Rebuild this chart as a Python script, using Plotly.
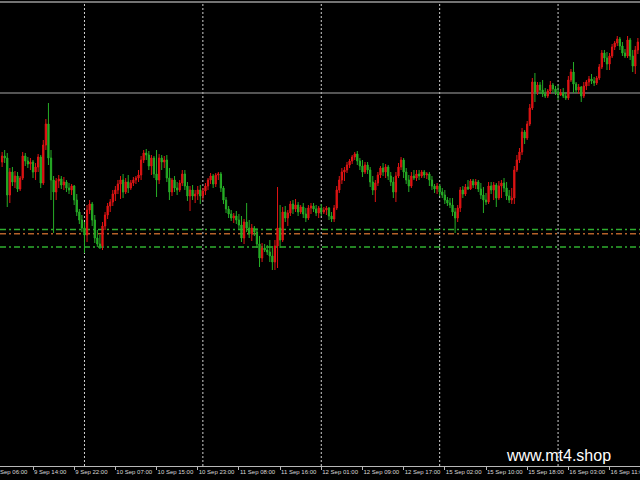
import plotly.graph_objects as go

# ---- data (M30 EURUSD-like bars) ----
bar_index = list(range(248))

opens = [
1.1838,1.1844,1.1842,1.1805,1.1828,1.1818,1.1824,1.1811,1.1822,1.1844,
1.1839,1.1836,1.1838,1.1828,1.1833,1.1843,1.1817,1.1855,1.1876,1.1842,
1.1820,1.1808,1.1819,1.1821,1.1815,1.1818,1.1812,1.1810,1.1814,1.1800,
1.1788,1.1780,1.1772,1.1765,1.1790,1.1796,1.1780,1.1762,1.1756,1.1754,
1.1774,1.1785,1.1794,1.1798,1.1806,1.1810,1.1816,1.1820,1.1808,1.1818,
1.1812,1.1817,1.1820,1.1822,1.1825,1.1840,1.1847,1.1845,1.1834,1.1842,
1.1826,1.1820,1.1842,1.1838,1.1840,1.1822,1.1808,1.1820,1.1812,1.1810,
1.1817,1.1826,1.1814,1.1804,1.1810,1.1804,1.1806,1.1810,1.1804,1.1809,
1.1814,1.1820,1.1824,1.1816,1.1825,1.1826,1.1812,1.1800,1.1791,1.1786,
1.1782,1.1784,1.1780,1.1775,1.1762,1.1778,1.1772,1.1766,1.1772,1.1768,
1.1756,1.1742,1.1752,1.1750,1.1748,1.1744,1.1738,1.1754,1.1772,1.1760,
1.1788,1.1782,1.1787,1.1796,1.1791,1.1795,1.1788,1.1793,1.1786,1.1782,
1.1792,1.1794,1.1791,1.1787,1.1792,1.1788,1.1790,1.1792,1.1784,1.1781,
1.1792,1.1810,1.1820,1.1828,1.1830,1.1835,1.1839,1.1843,1.1846,1.1839,
1.1834,1.1828,1.1835,1.1830,1.1818,1.1810,1.1817,1.1825,1.1832,1.1828,
1.1833,1.1824,1.1818,1.1808,1.1824,1.1833,1.1840,1.1828,1.1820,1.1814,
1.1824,1.1822,1.1826,1.1824,1.1828,1.1825,1.1826,1.1820,1.1814,1.1811,
1.1814,1.1808,1.1805,1.1800,1.1797,1.1795,1.1788,1.1782,1.1792,1.1810,
1.1806,1.1813,1.1811,1.1819,1.1815,1.1818,1.1811,1.1805,1.1800,1.1798,
1.1814,1.1810,1.1815,1.1802,1.1814,1.1817,1.1812,1.1804,1.1800,1.1802,
1.1830,1.1840,1.1848,1.1868,1.1862,1.1876,1.1892,1.1918,1.1908,1.1915,
1.1910,1.1906,1.1904,1.1909,1.1915,1.1911,1.1908,1.1905,1.1907,1.1904,
1.1902,1.1920,1.1928,1.1916,1.1910,1.1913,1.1904,1.1914,1.1918,1.1921,
1.1919,1.1917,1.1922,1.1933,1.1947,1.1942,1.1936,1.1944,1.1953,1.1957,
1.1961,1.1954,1.1947,1.1944,1.1960,1.1944,1.1934,1.1950,
]

highs = [
1.1848,1.1850,1.1847,1.1832,1.1833,1.1829,1.1828,1.1824,1.1848,1.1847,
1.1843,1.1842,1.1840,1.1837,1.1846,1.1845,1.1860,1.1881,1.1897,1.1850,
1.1824,1.1822,1.1825,1.1824,1.1823,1.1820,1.1817,1.1816,1.1815,1.1806,
1.1791,1.1785,1.1778,1.1795,1.1800,1.1798,1.1785,1.1770,1.1765,1.1778,
1.1788,1.1797,1.1801,1.1810,1.1814,1.1820,1.1824,1.1826,1.1822,1.1825,
1.1820,1.1823,1.1824,1.1830,1.1844,1.1850,1.1851,1.1849,1.1845,1.1844,
1.1850,1.1846,1.1845,1.1844,1.1845,1.1832,1.1822,1.1824,1.1818,1.1820,
1.1830,1.1830,1.1818,1.1814,1.1815,1.1810,1.1814,1.1815,1.1812,1.1817,
1.1822,1.1827,1.1826,1.1827,1.1828,1.1828,1.1814,1.1803,1.1794,1.1790,
1.1787,1.1789,1.1786,1.1784,1.1781,1.1797,1.1780,1.1776,1.1774,1.1772,
1.1764,1.1757,1.1756,1.1755,1.1760,1.1754,1.1760,1.1813,1.1795,1.1793,
1.1794,1.1790,1.1799,1.1800,1.1801,1.1798,1.1795,1.1797,1.1792,1.1795,
1.1797,1.1797,1.1795,1.1794,1.1796,1.1793,1.1794,1.1793,1.1788,1.1795,
1.1814,1.1824,1.1832,1.1833,1.1838,1.1841,1.1845,1.1848,1.1849,1.1842,
1.1840,1.1838,1.1838,1.1833,1.1824,1.1820,1.1828,1.1834,1.1837,1.1836,
1.1835,1.1828,1.1823,1.1828,1.1837,1.1843,1.1842,1.1832,1.1825,1.1828,
1.1830,1.1830,1.1830,1.1830,1.1830,1.1828,1.1828,1.1824,1.1816,1.1817,
1.1816,1.1812,1.1810,1.1803,1.1802,1.1802,1.1792,1.1795,1.1813,1.1814,
1.1816,1.1820,1.1821,1.1821,1.1821,1.1820,1.1817,1.1813,1.1807,1.1818,
1.1818,1.1818,1.1817,1.1819,1.1820,1.1822,1.1818,1.1810,1.1812,1.1834,
1.1845,1.1852,1.1872,1.1870,1.1879,1.1896,1.1922,1.1927,1.1918,1.1918,
1.1920,1.1912,1.1911,1.1919,1.1917,1.1914,1.1915,1.1911,1.1912,1.1908,
1.1924,1.1931,1.1938,1.1918,1.1916,1.1914,1.1918,1.1920,1.1924,1.1926,
1.1923,1.1924,1.1936,1.1950,1.1950,1.1948,1.1947,1.1956,1.1959,1.1964,
1.1963,1.1958,1.1951,1.1964,1.1962,1.1950,1.1954,1.1962,
]

lows = [
1.1833,1.1837,1.1793,1.1797,1.1814,1.1812,1.1808,1.1809,1.1820,1.1834,
1.1832,1.1830,1.1822,1.1820,1.1828,1.1812,1.1815,1.1850,1.1835,1.1800,
1.1767,1.1800,1.1812,1.1811,1.1810,1.1808,1.1806,1.1805,1.1795,1.1784,
1.1776,1.1768,1.1747,1.1758,1.1786,1.1774,1.1757,1.1753,1.1751,1.1750,
1.1770,1.1781,1.1788,1.1794,1.1799,1.1806,1.1801,1.1802,1.1806,1.1807,
1.1810,1.1814,1.1816,1.1818,1.1820,1.1837,1.1840,1.1830,1.1825,1.1822,
1.1803,1.1816,1.1830,1.1832,1.1818,1.1800,1.1804,1.1808,1.1805,1.1808,
1.1814,1.1810,1.1799,1.1789,1.1800,1.1797,1.1800,1.1796,1.1800,1.1805,
1.1810,1.1816,1.1812,1.1813,1.1820,1.1808,1.1796,1.1787,1.1782,1.1779,
1.1777,1.1776,1.1770,1.1758,1.1756,1.1768,1.1762,1.1759,1.1764,1.1752,
1.1733,1.1738,1.1748,1.1745,1.1738,1.1730,1.1730,1.1732,1.1752,1.1758,
1.1778,1.1774,1.1784,1.1786,1.1788,1.1784,1.1786,1.1782,1.1778,1.1780,
1.1786,1.1788,1.1784,1.1782,1.1784,1.1786,1.1785,1.1780,1.1778,1.1778,
1.1790,1.1807,1.1816,1.1819,1.1827,1.1832,1.1836,1.1840,1.1835,1.1830,
1.1823,1.1826,1.1826,1.1813,1.1805,1.1798,1.1814,1.1822,1.1824,1.1822,
1.1820,1.1814,1.1802,1.1798,1.1822,1.1830,1.1822,1.1816,1.1808,1.1812,
1.1820,1.1819,1.1820,1.1822,1.1822,1.1821,1.1814,1.1810,1.1807,1.1806,
1.1804,1.1802,1.1796,1.1794,1.1792,1.1784,1.1767,1.1778,1.1788,1.1802,
1.1804,1.1810,1.1810,1.1812,1.1811,1.1808,1.1801,1.1787,1.1795,1.1796,
1.1806,1.1800,1.1793,1.1800,1.1802,1.1808,1.1800,1.1797,1.1796,1.1796,
1.1828,1.1837,1.1845,1.1856,1.1860,1.1874,1.1890,1.1898,1.1905,1.1906,
1.1903,1.1902,1.1902,1.1906,1.1907,1.1905,1.1900,1.1904,1.1902,1.1900,
1.1900,1.1918,1.1907,1.1907,1.1906,1.1898,1.1902,1.1910,1.1914,1.1916,
1.1914,1.1915,1.1920,1.1931,1.1938,1.1930,1.1930,1.1942,1.1950,1.1954,
1.1950,1.1944,1.1942,1.1942,1.1940,1.1928,1.1926,1.1946,
]

closes = [
1.1844,1.1842,1.1805,1.1828,1.1818,1.1824,1.1811,1.1822,1.1844,1.1839,
1.1836,1.1838,1.1828,1.1833,1.1843,1.1817,1.1855,1.1876,1.1842,1.1820,
1.1808,1.1819,1.1821,1.1815,1.1818,1.1812,1.1810,1.1814,1.1800,1.1788,
1.1780,1.1772,1.1765,1.1790,1.1796,1.1780,1.1762,1.1756,1.1754,1.1774,
1.1785,1.1794,1.1798,1.1806,1.1810,1.1816,1.1820,1.1808,1.1818,1.1812,
1.1817,1.1820,1.1822,1.1825,1.1840,1.1847,1.1845,1.1834,1.1842,1.1826,
1.1820,1.1842,1.1838,1.1840,1.1822,1.1808,1.1820,1.1812,1.1810,1.1817,
1.1826,1.1814,1.1804,1.1810,1.1804,1.1806,1.1810,1.1804,1.1809,1.1814,
1.1820,1.1824,1.1816,1.1825,1.1826,1.1812,1.1800,1.1791,1.1786,1.1782,
1.1784,1.1780,1.1775,1.1762,1.1778,1.1772,1.1766,1.1772,1.1768,1.1756,
1.1742,1.1752,1.1750,1.1748,1.1744,1.1738,1.1754,1.1772,1.1760,1.1788,
1.1782,1.1787,1.1796,1.1791,1.1795,1.1788,1.1793,1.1786,1.1782,1.1792,
1.1794,1.1791,1.1787,1.1792,1.1788,1.1790,1.1792,1.1784,1.1781,1.1792,
1.1810,1.1820,1.1828,1.1830,1.1835,1.1839,1.1843,1.1846,1.1839,1.1834,
1.1828,1.1835,1.1830,1.1818,1.1810,1.1817,1.1825,1.1832,1.1828,1.1833,
1.1824,1.1818,1.1808,1.1824,1.1833,1.1840,1.1828,1.1820,1.1814,1.1824,
1.1822,1.1826,1.1824,1.1828,1.1825,1.1826,1.1820,1.1814,1.1811,1.1814,
1.1808,1.1805,1.1800,1.1797,1.1795,1.1788,1.1782,1.1792,1.1810,1.1806,
1.1813,1.1811,1.1819,1.1815,1.1818,1.1811,1.1805,1.1800,1.1798,1.1814,
1.1810,1.1815,1.1802,1.1814,1.1817,1.1812,1.1804,1.1800,1.1802,1.1830,
1.1840,1.1848,1.1868,1.1862,1.1876,1.1892,1.1918,1.1908,1.1915,1.1910,
1.1906,1.1904,1.1909,1.1915,1.1911,1.1908,1.1905,1.1907,1.1904,1.1902,
1.1920,1.1928,1.1916,1.1910,1.1913,1.1904,1.1914,1.1918,1.1921,1.1919,
1.1917,1.1922,1.1933,1.1947,1.1942,1.1936,1.1944,1.1953,1.1957,1.1961,
1.1954,1.1947,1.1944,1.1960,1.1944,1.1934,1.1950,1.1958,
]

tick_bars = [12, 28, 44, 60, 76, 92, 108, 124, 140, 156, 172, 188, 204, 220, 236]
tick_labels = ["9 Sep 14:00", "9 Sep 22:00", "10 Sep 07:00", "10 Sep 15:00",
               "10 Sep 23:00", "11 Sep 08:00", "11 Sep 16:00", "12 Sep 01:00",
               "12 Sep 09:00", "12 Sep 17:00", "15 Sep 02:00", "15 Sep 10:00",
               "15 Sep 18:00", "16 Sep 03:00", "16 Sep 11:00"]
first_label = "9 Sep 06:00"

day_separator_bars = [32, 78, 124, 170, 216]
level_gray = 1.1907
level_green_upper = 1.17705
level_brown = 1.17663
level_green_lower = 1.1753

# ---- figure ----
UP = "#e01414"
DOWN = "#26ad26"
LABEL_FONT = dict(family="Liberation Sans, Arial, sans-serif", size=6, color="#d8d8d8")

fig = go.Figure(go.Candlestick(
    x=bar_index, open=opens, high=highs, low=lows, close=closes,
    increasing=dict(line=dict(color=UP, width=1), fillcolor=UP),
    decreasing=dict(line=dict(color=DOWN, width=1), fillcolor=DOWN),
    whiskerwidth=0, hoverinfo="skip", showlegend=False,
))

shapes = []
for b in day_separator_bars:
    shapes.append(dict(type="line", xref="x", yref="paper", x0=b, x1=b, y0=0, y1=1,
                       line=dict(color="#d0d0d0", width=1, dash="2px,2px"), layer="below"))
shapes.append(dict(type="line", xref="paper", yref="y", x0=0, x1=1, y0=level_gray, y1=level_gray,
                   line=dict(color="#a8a8a8", width=1.2), layer="below"))
for lvl, col in [(level_green_upper, "#2fae2f"), (level_brown, "#b5622a"), (level_green_lower, "#2fae2f")]:
    shapes.append(dict(type="line", xref="paper", yref="y", x0=0, x1=1, y0=lvl, y1=lvl,
                       line=dict(color=col, width=1.4, dash="6px,3px,2px,3px"), layer="below"))
shapes.append(dict(type="line", xref="paper", yref="paper", x0=0, x1=1, y0=1, y1=1,
                   line=dict(color="#9a9a9a", width=1.5)))

fig.update_layout(
    width=640, height=480,
    paper_bgcolor="black", plot_bgcolor="black",
    margin=dict(l=0, r=0, t=2, b=14, autoexpand=False),
    shapes=shapes,
    xaxis=dict(
        range=[-0.82, 247.83], rangeslider=dict(visible=False),
        showgrid=False, zeroline=False, showline=True, linecolor="#b8b8b8", linewidth=1,
        tickmode="array", tickvals=tick_bars, ticktext=tick_labels,
        ticks="outside", ticklen=3, tickcolor="#b8b8b8",
        ticklabelposition="outside right", tickangle=0, ticklabeloverflow="allow",
        tickfont=LABEL_FONT, automargin=False,
    ),
    yaxis=dict(range=[1.1534, 1.1998], visible=False, showgrid=False, zeroline=False),
    annotations=[
        dict(text=first_label, xref="paper", yref="paper", x=-7.5 / 640, y=-0.012,
             xanchor="left", yanchor="middle", showarrow=False, font=LABEL_FONT),
        dict(text="www.mt4.shop", xref="paper", yref="paper", x=504 / 640, y=0.0216,
             xanchor="left", yanchor="middle", showarrow=False,
             font=dict(family="Liberation Sans, Arial, sans-serif", size=16, color="white")),
    ],
)

fig.write_html(
    "out.html",
    config={"displayModeBar": False},
    post_script="document.body.style.margin='0';document.body.style.background='black';",
)
